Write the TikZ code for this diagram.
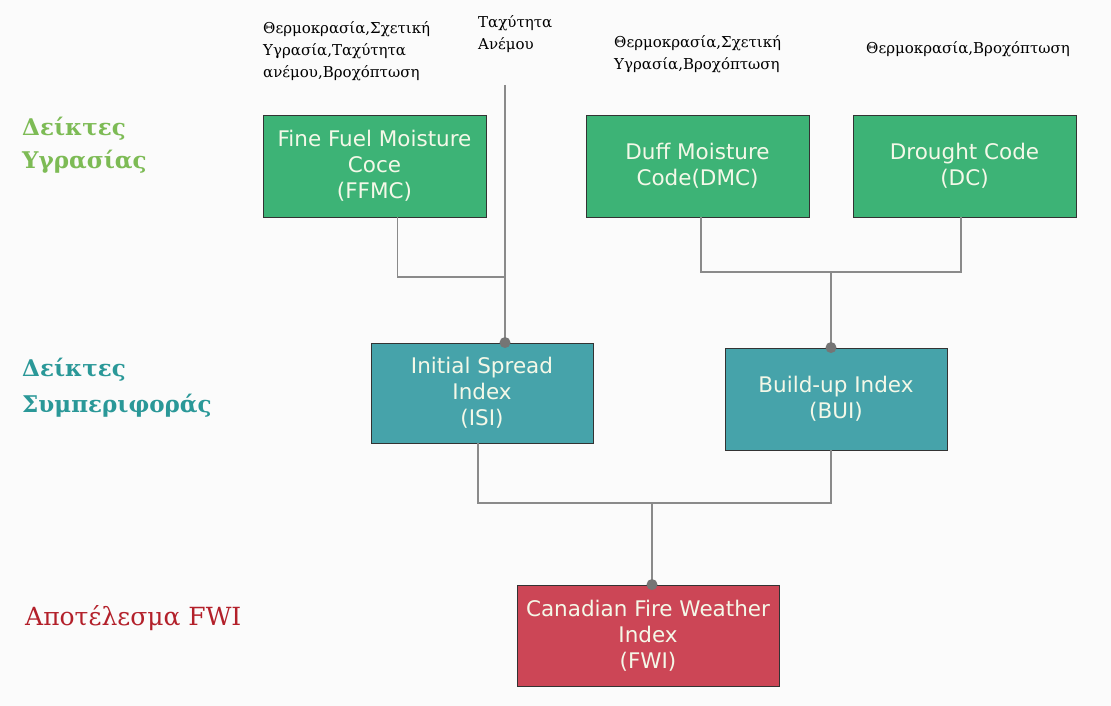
\documentclass[tikz,border=0pt]{standalone}
\usepackage{fontspec}
\setmainfont{DejaVu Serif}
\newfontfamily\boxfont{DejaVu Sans}
\usetikzlibrary{calc}
\definecolor{bg}{HTML}{FBFBFB}
\definecolor{gbox}{HTML}{3DB376}
\definecolor{tbox}{HTML}{46A3AA}
\definecolor{rbox}{HTML}{CC4656}
\definecolor{boxtext}{HTML}{F4F8E8}
\definecolor{glabel}{HTML}{7DBB55}
\definecolor{tlabel}{HTML}{2A9898}
\definecolor{rlabel}{HTML}{B3202A}
\definecolor{conn}{HTML}{8A8A8A}
\tikzset{
  idxbox/.style={draw=black!80, line width=0.9pt, minimum width=#1, align=center, text=boxtext,
    font=\boxfont\fontsize{21.5}{26}\selectfont, inner sep=0pt},
  inlabel/.style={anchor=north west, align=left, font=\fontsize{15}{22}\selectfont, inner sep=0pt},
  sidelabel/.style={anchor=north west, align=left, inner sep=0pt},
  wire/.style={draw=conn, line width=1.1pt},
  dot/.style={circle, fill=conn!85!black, minimum size=11pt, inner sep=0pt}
}
\begin{document}
\begin{tikzpicture}[x=1pt,y=-1pt]
\fill[bg] (0,0) rectangle (1111,706);
\useasboundingbox (0,0) rectangle (1111,706);

% input labels
\node[inlabel] (in1) at (263,21) {Θερμοκρασία,Σχετική\\Υγρασία,Ταχύτητα\\ανέμου,Βροχόπτωση};
\node[inlabel] (in2) at (478,15) {Ταχύτητα\\Ανέμου};
\node[inlabel] (in3) at (614,35) {Θερμοκρασία,Σχετική\\Υγρασία,Βροχόπτωση};
\node[inlabel] (in4) at (866,41) {Θερμοκρασία,Βροχόπτωση};

% side labels
\node[sidelabel, text=glabel, font=\bfseries\fontsize{23}{33}\selectfont] (l1) at (22,117) {Δείκτες\\Υγρασίας};
\node[sidelabel, text=tlabel, font=\bfseries\fontsize{23}{36}\selectfont] (l2) at (22,358) {Δείκτες\\Συμπεριφοράς};
\node[sidelabel, text=rlabel, font=\fontsize{25}{33}\selectfont] (l3) at (25,605) {Αποτέλεσμα FWI};

% boxes
\node[idxbox=223pt, minimum height=102pt, fill=gbox] (ffmc) at (374.5,166) {Fine Fuel Moisture\\Coce\\(FFMC)};
\node[idxbox=223pt, minimum height=102pt, fill=gbox] (dmc) at (697.5,166) {Duff Moisture\\Code(DMC)};
\node[idxbox=223pt, minimum height=102pt, fill=gbox] (dc) at (964.5,166) {Drought Code\\(DC)};
\node[idxbox=222pt, minimum height=100pt, fill=tbox] (isi) at (482,393) {Initial Spread\\Index\\(ISI)};
\node[idxbox=222pt, minimum height=102pt, fill=tbox] (bui) at (836,399) {Build-up Index\\(BUI)};
\node[idxbox=262pt, minimum height=101pt, fill=rbox] (fwi) at (648,635.5) {Canadian Fire Weather\\Index\\(FWI)};

% connector points
\coordinate (wtop) at (505,85);
\coordinate (j1) at (505,277);
\coordinate (j2) at (831,272);
\coordinate (j3) at (652,503);

% ISI inputs
\draw[wire] ([xshift=23pt]ffmc.south) |- (j1);
\draw[wire] (wtop) -- (wtop |- isi.north);
\node[dot] (d1) at (wtop |- isi.north) {};

% BUI inputs
\draw[wire] ([xshift=3.5pt]dmc.south) |- (j2) -| ([xshift=-3.5pt]dc.south);
\draw[wire] (j2) -- (j2 |- bui.north);
\node[dot] (d2) at (j2 |- bui.north) {};

% FWI inputs
\draw[wire] ([xshift=-4pt]isi.south) |- (j3) -| (j2 |- bui.south);
\draw[wire] (j3) -- (j3 |- fwi.north);
\node[dot] (d3) at (j3 |- fwi.north) {};
\end{tikzpicture}
\end{document}
